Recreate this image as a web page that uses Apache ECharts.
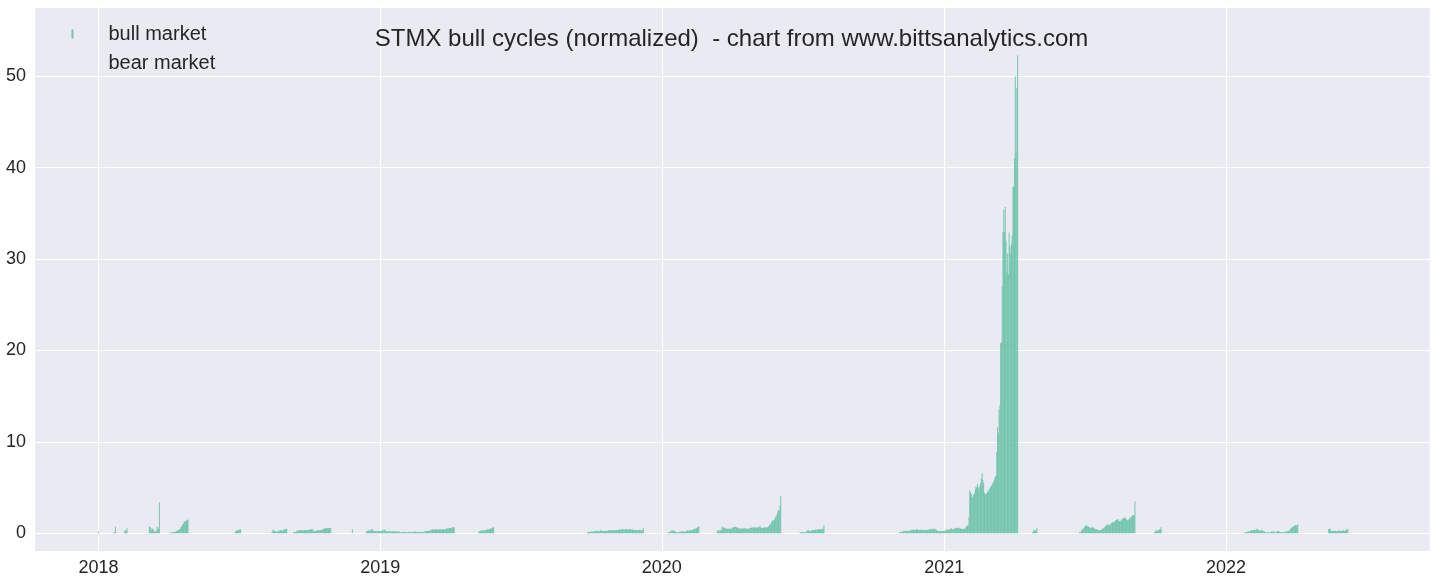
<!DOCTYPE html>
<html>
<head>
<meta charset="utf-8">
<script src="https://cdn.jsdelivr.net/npm/echarts@6/dist/echarts.min.js"></script>
<style>
html,body{margin:0;padding:0;background:#ffffff;}
#chart{width:1436px;height:583px;}
</style>
</head>
<body>
<div id="chart"></div>
<script>
// ---- DATA (daily normalized price during bull phases) ----
const titleText = 'STMX bull cycles (normalized)  - chart from www.bittsanalytics.com';
const seriesNames = ['bull market', 'bear market'];
const yearTicks = ['2018', '2019', '2020', '2021', '2022'];

// start date of each bull run (daily bars follow consecutively)
const bullStarts = ['2018-01-01','2018-01-21','2018-02-04','2018-03-08','2018-04-04','2018-06-27',
  '2018-08-13','2018-09-11','2018-11-26','2018-12-14','2019-05-09','2019-09-27','2020-01-09',
  '2020-03-13','2020-06-28','2020-11-04','2021-02-02','2021-04-25','2021-06-25','2021-09-30',
  '2022-01-25','2022-05-14'];

const run01 = [0.2];
const run02 = [0.1,0.12,0.75];
const run03 = [0.3,0.3,0.2,0.55];
const run04 = [0.75,0.65,0.55,0.35,0.5,0.45,0.2,0.2,0.2,0.25,0.7,0.6,0.45,3.4];
const run05 = [0.05,0.05,0.08,0.1,0.1,0.12,0.15,0.2,0.25,0.3,0.3,0.35,0.45,0.5,0.7,0.75,1.0,1.05,1.3,1.35,1.2,1.4,1.45,1.5];
const run06 = [0.15,0.25,0.3,0.3,0.35,0.35,0.4,0.45];
const run07 = [0.07,0.1,0.35,0.3,0.25,0.2,0.2,0.2,0.2,0.25,0.2,0.35,0.35,0.3,0.3,0.3,0.35,0.45,0.4,0.5,0.5];
const run08 = [0.15,0.15,0.15,0.15,0.3,0.28,0.3,0.32,0.3,0.33,0.35,0.32,0.3,0.33,0.34,0.35,0.33,0.35,0.36,0.34,0.35,
  0.44,0.45,0.42,0.44,0.4,0.25,0.22,0.26,0.28,0.3,0.33,0.32,0.33,0.35,0.34,0.36,0.35,
  0.45,0.5,0.52,0.55,0.56,0.55,0.58,0.57,0.6,0.58,0.56];
const run09 = [0.45];
const run10 = [0.2,0.25,0.28,0.3,0.27,0.28,0.38,0.44,0.4,
  0.28,0.25,0.26,0.24,0.25,0.27,0.25,0.24,0.26,0.25,0.24,0.25,0.27,0.3,0.4,0.35,0.3,
  0.22,0.2,0.21,0.2,0.22,0.24,0.2,0.19,0.2,0.21,0.23,0.22,0.2,0.19,0.21,0.2,0.18,0.17,
  0.15,0.14,0.13,0.12,0.14,0.16,0.15,0.13,0.12,0.11,0.12,0.14,0.16,0.17,0.15,0.14,0.13,0.15,0.17,0.18,0.16,0.15,0.14,0.13,0.14,0.16,0.15,0.14,0.12,0.13,0.15,0.17,0.18,
  0.22,0.24,0.25,0.27,0.26,0.28,0.3,
  0.35,0.38,0.4,0.42,0.4,0.38,0.41,0.43,0.42,0.4,0.39,0.41,0.44,0.42,0.4,0.43,0.45,0.44,
  0.45,0.48,0.5,0.52,0.5,0.55,0.58,0.6,0.57,0.6,0.62,0.65,0.63];
const run11 = [0.2,0.22,0.25,0.3,0.28,0.3,0.32,0.3,0.33,0.35,0.4,0.38,0.42,0.4,0.45,0.5,0.52,0.55,0.6,0.65];
const run12 = [0.12,0.15,0.13,0.16,0.15,0.18,0.17,0.2,
  0.22,0.25,0.24,0.26,0.28,0.25,0.23,0.25,0.27,0.3,0.28,0.25,0.24,0.26,0.25,0.27,0.26,0.24,
  0.28,0.3,0.32,0.3,0.33,0.35,0.32,0.3,0.34,0.36,0.33,0.35,0.37,0.35,0.38,
  0.4,0.38,0.42,0.4,0.43,0.45,0.42,0.4,0.44,0.46,0.43,0.4,0.42,0.45,0.47,0.44,0.42,
  0.38,0.35,0.36,0.34,0.37,0.35,0.33,0.34,0.36,0.35,0.33,0.32,0.34,0.36,0.55];
const run13 = [0.08,0.1,0.12,0.2,0.25,0.3,0.28,0.3,0.27,0.22,0.15,0.12,0.1,0.1,0.12,0.14,
  0.18,0.2,0.17,0.2,0.22,0.18,0.16,0.2,0.25,0.3,0.3,0.28,0.3,0.32,0.3,0.33,0.36,
  0.42,0.48,0.5,0.52,0.55,0.65,0.7,0.75];
const run14 = [0.3,0.28,0.3,0.32,0.3,0.35,0.73,0.6,0.55,0.62,0.58,0.55,
  0.45,0.5,0.48,0.52,0.5,0.48,0.5,0.6,0.62,0.65,0.68,0.7,0.66,0.64,0.6,
  0.55,0.52,0.53,0.5,0.52,0.54,0.5,0.52,0.55,0.53,0.51,0.5,0.48,0.5,0.52,0.55,
  0.58,0.6,0.62,0.6,0.65,0.62,0.6,0.64,0.66,0.63,0.62,0.65,0.8,
  0.62,0.6,0.58,0.6,0.62,0.6,0.63,0.65,0.62,0.64,
  0.73,0.8,1.0,0.95,1.2,1.4,1.35,1.45,1.5,1.8,1.7,2.0,2.3,2.55,2.5,3.0,4.1];
const run15 = [0.08,0.1,0.1,0.12,0.1,0.08,0.1,0.12,0.15,0.28,0.3,0.3,0.28,0.25,0.22,
  0.3,0.35,0.36,0.32,0.34,0.38,0.4,0.36,0.42,0.45,0.4,0.44,0.46,0.48,0.45,0.5,0.9];
const run16 = [0.1,0.15,0.12,0.18,0.2,0.22,0.25,0.28,0.25,0.22,0.28,0.3,0.25,0.24,0.3,0.32,
  0.35,0.38,0.4,0.36,0.34,0.38,0.42,0.4,0.38,0.36,0.35,0.37,0.4,0.38,0.36,0.35,0.34,0.36,0.38,0.37,0.35,0.36,0.4,0.42,0.45,0.5,0.48,0.45,
  0.45,0.5,0.48,0.4,0.3,0.28,0.25,0.24,0.26,0.25,0.24,0.25,0.23,0.24,0.26,0.28,0.3,
  0.38,0.4,0.42,0.38,0.4,0.45,0.6,0.45,0.38,0.4,0.5,0.55,0.58,0.6,0.55,0.58,0.6,0.55,
  0.5,0.48,0.5,0.45,0.48,0.5,0.52,0.7,0.75,0.85,0.9];
const run17 = [1.8,4.7,4.5,4.3,4.0,3.9,4.2,4.4,4.8,5.1,5.0,5.4,5.0,4.8,5.2,5.5,6.0,6.6,5.8,5.5,
  4.4,4.2,4.3,4.4,4.6,4.5,4.8,4.9,5.1,5.2,5.4,5.5,5.7,5.9,6.2,6.3,8.9,11.6,11.0,13.5,14.0,20.8,20.9,27.0,
  33.0,35.4,33.0,35.7,32.0,28.5,30.6,28.3,32.9,31.4,30.5,31.7,32.6,37.9,37.9,41.0,50.0,41.6,48.7,52.3];
const run18 = [0.1,0.15,0.35,0.3,0.25,0.35,0.55];
const run19 = [0.15,0.08,0.2,0.36,0.42,0.5,0.6,0.73,0.8,0.87,0.82,0.75,0.7,0.65,0.6,0.58,0.62,0.65,0.62,0.58,
  0.5,0.45,0.44,0.4,0.36,0.32,0.3,0.32,0.36,0.42,0.48,0.55,0.6,0.68,0.8,0.87,0.92,0.95,0.9,0.88,
  1.0,1.1,1.12,1.17,1.2,1.25,1.32,1.4,1.45,1.5,1.53,1.4,1.3,1.35,1.42,1.5,1.58,1.65,1.72,1.75,
  1.6,1.5,1.45,1.4,1.5,1.6,1.7,1.75,1.85,1.97,1.95,2.0,3.5];
const run20 = [0.1,0.12,0.3,0.3,0.28,0.3,0.32,0.44,0.45,0.65];
const run21 = [0.08,0.1,0.1,0.15,0.2,0.22,0.2,0.25,0.22,0.3,0.36,0.32,0.35,0.4,0.36,0.3,0.5,0.45,
  0.35,0.3,0.28,0.3,0.32,0.3,0.28,0.2,0.18,0.1,0.08,0.1,0.12,0.1,0.08,0.1,
  0.15,0.18,0.2,0.18,0.15,0.16,0.1,0.12,0.2,0.22,0.25,0.2,0.12,0.1,0.1,0.08,0.1,0.12,0.1,
  0.18,0.2,0.22,0.2,0.25,0.28,0.45,0.5,0.6,0.65,0.75,0.8,0.85,0.87,0.82,0.9,1.0];
const run22 = [0.43,0.5,0.45,0.3,0.28,0.25,0.24,0.26,0.28,0.25,0.24,0.26,0.25,0.27,0.28,0.25,0.24,0.26,0.28,0.3,0.27,0.25,0.3,0.38,0.43,0.42];
const bullRuns = [run01,run02,run03,run04,run05,run06,run07,run08,run09,run10,run11,run12,run13,run14,run15,run16,run17,run18,run19,run20,run21,run22];
const bearValues = []; // bear-market bars are drawn invisibly in the original

// ---- build ----
function dayTs(str, i) {
  const p = str.split('-').map(Number);
  return new Date(p[0], p[1] - 1, p[2] + i).getTime();
}
const bullData = [];
bullStarts.forEach((s, k) => {
  bullRuns[k].forEach((v, i) => bullData.push([dayTs(s, i), v]));
});

const DAY = 86400000;
const base = new Date(2018, 0, 1).getTime();
const FONT = '"Liberation Sans", Arial, sans-serif';
const TXT = '#262626';

const chart = echarts.init(document.getElementById('chart'), null, {renderer: 'canvas'});
chart.setOption({
  animation: false,
  backgroundColor: '#ffffff',
  textStyle: {fontFamily: FONT},
  title: {
    text: titleText,
    left: 731.5,
    top: 27,
    padding: 0,
    textAlign: 'center',
    textStyle: {fontFamily: FONT, fontSize: 24, fontWeight: 'normal', color: TXT, lineHeight: 24}
  },
  legend: {
    orient: 'vertical',
    left: 71.5,
    top: 24,
    padding: 0,
    itemWidth: 2,
    itemHeight: 9,
    itemGap: 9,
    icon: 'rect',
    textStyle: {fontFamily: FONT, fontSize: 20, color: TXT, lineHeight: 20, padding: [0, 0, 0, 30]},
    data: seriesNames
  },
  grid: {
    left: 34, right: 6, top: 7, bottom: 32,
    show: true, backgroundColor: '#EAEAF2', borderWidth: 0
  },
  xAxis: {
    type: 'time',
    min: base - 82.9 * DAY,
    max: base + 1724.7 * DAY,
    splitNumber: 5,
    axisLine: {show: false},
    axisTick: {show: false},
    splitLine: {show: true, lineStyle: {color: '#ffffff', width: 1.2}},
    axisLabel: {
      fontFamily: FONT, fontSize: 18, color: TXT, margin: 8, lineHeight: 18,
      formatter: function (v) {
        const y = String(new Date(v).getFullYear());
        return yearTicks.indexOf(y) >= 0 ? y : '';
      }
    }
  },
  yAxis: {
    type: 'value',
    min: -1.94,
    max: 57.58,
    splitNumber: 5,
    axisLine: {show: false},
    axisTick: {show: false},
    splitLine: {show: true, lineStyle: {color: '#ffffff', width: 1.2}},
    axisLabel: {
      fontFamily: FONT, fontSize: 18, color: TXT, margin: 8,
      showMinLabel: false, showMaxLabel: false,
      formatter: function (v) { return (Math.abs(v % 10) < 1e-9) ? String(v) : ''; }
    }
  },
  series: [
    {
      name: seriesNames[0],
      type: 'bar',
      data: bullData,
      barWidth: 1,
      barGap: '-100%',
      itemStyle: {color: '#66c2a5', opacity: 0.88}
    },
    {
      name: seriesNames[1],
      type: 'bar',
      data: bearValues,
      barWidth: 1,
      barGap: '-100%',
      itemStyle: {color: 'rgba(0,0,0,0)'}
    }
  ]
});
</script>
</body>
</html>
